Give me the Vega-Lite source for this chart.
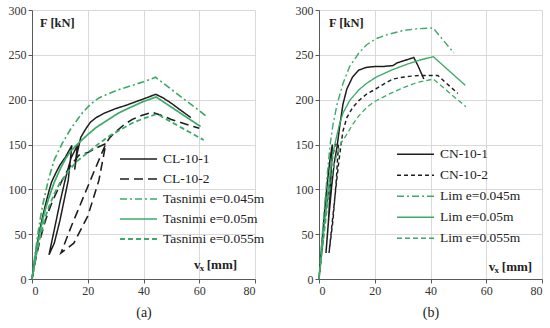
{
"$schema": "https://vega.github.io/schema/vega-lite/v6.json",
"background": "white",
"padding": {"left": 8, "top": 4, "right": 4, "bottom": 2},
"spacing": 30,
"resolve": {"scale": {"color": "independent", "strokeDash": "independent", "strokeWidth": "independent", "x": "independent", "y": "independent"}, "legend": {"color": "independent", "strokeDash": "independent", "strokeWidth": "independent"}},
"config": {
  "view": {"stroke": null},
  "font": "Liberation Serif, serif",
  "axis": {"labelFont": "Liberation Serif, serif", "labelFontSize": 12, "labelColor": "#333333", "gridColor": "#d9d9d9", "domainColor": "#595959", "tickColor": "#595959", "tickSize": 4, "labelPadding": 2, "titleFont": "Liberation Serif, serif", "titleColor": "#222222"},
  "legend": {"labelFont": "Liberation Serif, serif", "labelFontSize": 13.5, "labelColor": "#222222"},
  "text": {"font": "Liberation Serif, serif"}
},
"datasets": {
"a": [
{"s":"CL-10-1","i":0,"x":0,"y":0},{"s":"CL-10-1","i":1,"x":1,"y":22},{"s":"CL-10-1","i":2,"x":2,"y":42},{"s":"CL-10-1","i":3,"x":3,"y":58},{"s":"CL-10-1","i":4,"x":4,"y":72},{"s":"CL-10-1","i":5,"x":5,"y":85},{"s":"CL-10-1","i":6,"x":6,"y":97},{"s":"CL-10-1","i":7,"x":7,"y":108},{"s":"CL-10-1","i":8,"x":8.5,"y":118},{"s":"CL-10-1","i":9,"x":10,"y":127},{"s":"CL-10-1","i":10,"x":12,"y":136},{"s":"CL-10-1","i":11,"x":14.3,"y":149},{"s":"CL-10-1","i":12,"x":13,"y":110},{"s":"CL-10-1","i":13,"x":10,"y":65},{"s":"CL-10-1","i":14,"x":8,"y":40},{"s":"CL-10-1","i":15,"x":6.1,"y":27},{"s":"CL-10-1","i":16,"x":8,"y":55},{"s":"CL-10-1","i":17,"x":10,"y":85},{"s":"CL-10-1","i":18,"x":12,"y":112},{"s":"CL-10-1","i":19,"x":14,"y":135},{"s":"CL-10-1","i":20,"x":16.3,"y":149},{"s":"CL-10-1","i":21,"x":15.3,"y":122},{"s":"CL-10-1","i":22,"x":16.2,"y":140},{"s":"CL-10-1","i":23,"x":17.5,"y":158},{"s":"CL-10-1","i":24,"x":19.4,"y":168},{"s":"CL-10-1","i":25,"x":21,"y":175},{"s":"CL-10-1","i":26,"x":23,"y":180},{"s":"CL-10-1","i":27,"x":26,"y":185},{"s":"CL-10-1","i":28,"x":30,"y":190},{"s":"CL-10-1","i":29,"x":34,"y":194},{"s":"CL-10-1","i":30,"x":38.4,"y":199},{"s":"CL-10-1","i":31,"x":41,"y":202},{"s":"CL-10-1","i":32,"x":44.4,"y":206},{"s":"CL-10-1","i":33,"x":47,"y":202},{"s":"CL-10-1","i":34,"x":50,"y":196},{"s":"CL-10-1","i":35,"x":53,"y":189},{"s":"CL-10-1","i":36,"x":57,"y":180},
{"s":"CL-10-2","i":0,"x":0,"y":0},{"s":"CL-10-2","i":1,"x":1.5,"y":25},{"s":"CL-10-2","i":2,"x":3,"y":45},{"s":"CL-10-2","i":3,"x":4.5,"y":62},{"s":"CL-10-2","i":4,"x":6,"y":76},{"s":"CL-10-2","i":5,"x":7.5,"y":88},{"s":"CL-10-2","i":6,"x":9,"y":98},{"s":"CL-10-2","i":7,"x":10.5,"y":108},{"s":"CL-10-2","i":8,"x":12,"y":117},{"s":"CL-10-2","i":9,"x":13.5,"y":125},{"s":"CL-10-2","i":10,"x":15,"y":131},{"s":"CL-10-2","i":11,"x":16.8,"y":138},{"s":"CL-10-2","i":12,"x":20,"y":141},{"s":"CL-10-2","i":13,"x":23,"y":146},{"s":"CL-10-2","i":14,"x":26.5,"y":151},{"s":"CL-10-2","i":15,"x":24,"y":110},{"s":"CL-10-2","i":16,"x":20,"y":70},{"s":"CL-10-2","i":17,"x":15,"y":40},{"s":"CL-10-2","i":18,"x":10.4,"y":29},{"s":"CL-10-2","i":19,"x":14,"y":58},{"s":"CL-10-2","i":20,"x":18,"y":88},{"s":"CL-10-2","i":21,"x":22,"y":118},{"s":"CL-10-2","i":22,"x":26.5,"y":151},{"s":"CL-10-2","i":23,"x":28,"y":158},{"s":"CL-10-2","i":24,"x":30,"y":164},{"s":"CL-10-2","i":25,"x":33,"y":172},{"s":"CL-10-2","i":26,"x":36,"y":178},{"s":"CL-10-2","i":27,"x":39,"y":182},{"s":"CL-10-2","i":28,"x":43,"y":186},{"s":"CL-10-2","i":29,"x":46,"y":183},{"s":"CL-10-2","i":30,"x":50,"y":178},{"s":"CL-10-2","i":31,"x":55,"y":173},{"s":"CL-10-2","i":32,"x":60,"y":168},
{"s":"Tasnimi e=0.045m","i":0,"x":0,"y":0},{"s":"Tasnimi e=0.045m","i":1,"x":1,"y":25},{"s":"Tasnimi e=0.045m","i":2,"x":2,"y":48},{"s":"Tasnimi e=0.045m","i":3,"x":3,"y":68},{"s":"Tasnimi e=0.045m","i":4,"x":4,"y":85},{"s":"Tasnimi e=0.045m","i":5,"x":6,"y":112},{"s":"Tasnimi e=0.045m","i":6,"x":8,"y":133},{"s":"Tasnimi e=0.045m","i":7,"x":10.8,"y":151},{"s":"Tasnimi e=0.045m","i":8,"x":14,"y":168},{"s":"Tasnimi e=0.045m","i":9,"x":18,"y":185},{"s":"Tasnimi e=0.045m","i":10,"x":21,"y":195},{"s":"Tasnimi e=0.045m","i":11,"x":24,"y":202},{"s":"Tasnimi e=0.045m","i":12,"x":30,"y":210},{"s":"Tasnimi e=0.045m","i":13,"x":36,"y":216},{"s":"Tasnimi e=0.045m","i":14,"x":40,"y":220},{"s":"Tasnimi e=0.045m","i":15,"x":44.3,"y":225},{"s":"Tasnimi e=0.045m","i":16,"x":62.8,"y":181},
{"s":"Tasnimi e=0.05m","i":0,"x":0,"y":0},{"s":"Tasnimi e=0.05m","i":1,"x":1,"y":20},{"s":"Tasnimi e=0.05m","i":2,"x":2,"y":38},{"s":"Tasnimi e=0.05m","i":3,"x":3,"y":54},{"s":"Tasnimi e=0.05m","i":4,"x":4,"y":68},{"s":"Tasnimi e=0.05m","i":5,"x":5,"y":80},{"s":"Tasnimi e=0.05m","i":6,"x":6,"y":90},{"s":"Tasnimi e=0.05m","i":7,"x":8,"y":108},{"s":"Tasnimi e=0.05m","i":8,"x":10,"y":122},{"s":"Tasnimi e=0.05m","i":9,"x":12,"y":134},{"s":"Tasnimi e=0.05m","i":10,"x":14,"y":143},{"s":"Tasnimi e=0.05m","i":11,"x":16.5,"y":151},{"s":"Tasnimi e=0.05m","i":12,"x":20,"y":161},{"s":"Tasnimi e=0.05m","i":13,"x":23,"y":169},{"s":"Tasnimi e=0.05m","i":14,"x":27,"y":177},{"s":"Tasnimi e=0.05m","i":15,"x":31,"y":185},{"s":"Tasnimi e=0.05m","i":16,"x":35,"y":191},{"s":"Tasnimi e=0.05m","i":17,"x":40,"y":198},{"s":"Tasnimi e=0.05m","i":18,"x":44.5,"y":203},{"s":"Tasnimi e=0.05m","i":19,"x":60.5,"y":170},
{"s":"Tasnimi e=0.055m","i":0,"x":0,"y":0},{"s":"Tasnimi e=0.055m","i":1,"x":1,"y":18},{"s":"Tasnimi e=0.055m","i":2,"x":2,"y":34},{"s":"Tasnimi e=0.055m","i":3,"x":3,"y":48},{"s":"Tasnimi e=0.055m","i":4,"x":4,"y":60},{"s":"Tasnimi e=0.055m","i":5,"x":5,"y":71},{"s":"Tasnimi e=0.055m","i":6,"x":6,"y":80},{"s":"Tasnimi e=0.055m","i":7,"x":8,"y":95},{"s":"Tasnimi e=0.055m","i":8,"x":10,"y":107},{"s":"Tasnimi e=0.055m","i":9,"x":13,"y":120},{"s":"Tasnimi e=0.055m","i":10,"x":16,"y":131},{"s":"Tasnimi e=0.055m","i":11,"x":20,"y":141},{"s":"Tasnimi e=0.055m","i":12,"x":24,"y":151},{"s":"Tasnimi e=0.055m","i":13,"x":28,"y":160},{"s":"Tasnimi e=0.055m","i":14,"x":32,"y":167},{"s":"Tasnimi e=0.055m","i":15,"x":36,"y":174},{"s":"Tasnimi e=0.055m","i":16,"x":40,"y":179},{"s":"Tasnimi e=0.055m","i":17,"x":44.8,"y":184},{"s":"Tasnimi e=0.055m","i":18,"x":61.6,"y":155}
],
"b": [
{"s":"CN-10-1","i":0,"x":0,"y":0},{"s":"CN-10-1","i":1,"x":1,"y":38},{"s":"CN-10-1","i":2,"x":2,"y":75},{"s":"CN-10-1","i":3,"x":3,"y":108},{"s":"CN-10-1","i":4,"x":4,"y":135},{"s":"CN-10-1","i":5,"x":4.8,"y":150},{"s":"CN-10-1","i":6,"x":4.2,"y":110},{"s":"CN-10-1","i":7,"x":3.4,"y":65},{"s":"CN-10-1","i":8,"x":2.5,"y":29},{"s":"CN-10-1","i":9,"x":3.5,"y":68},{"s":"CN-10-1","i":10,"x":4.5,"y":102},{"s":"CN-10-1","i":11,"x":5.5,"y":130},{"s":"CN-10-1","i":12,"x":6.5,"y":148},{"s":"CN-10-1","i":13,"x":7.5,"y":172},{"s":"CN-10-1","i":14,"x":8.6,"y":195},{"s":"CN-10-1","i":15,"x":10,"y":212},{"s":"CN-10-1","i":16,"x":12,"y":225},{"s":"CN-10-1","i":17,"x":14.3,"y":233},{"s":"CN-10-1","i":18,"x":17,"y":236},{"s":"CN-10-1","i":19,"x":20,"y":237},{"s":"CN-10-1","i":20,"x":23,"y":237},{"s":"CN-10-1","i":21,"x":26.5,"y":238},{"s":"CN-10-1","i":22,"x":28,"y":241},{"s":"CN-10-1","i":23,"x":31,"y":244},{"s":"CN-10-1","i":24,"x":34,"y":247},{"s":"CN-10-1","i":25,"x":35.5,"y":238},{"s":"CN-10-1","i":26,"x":37.6,"y":223},
{"s":"CN-10-2","i":0,"x":0,"y":0},{"s":"CN-10-2","i":1,"x":1,"y":30},{"s":"CN-10-2","i":2,"x":2,"y":60},{"s":"CN-10-2","i":3,"x":3,"y":88},{"s":"CN-10-2","i":4,"x":4,"y":115},{"s":"CN-10-2","i":5,"x":5,"y":138},{"s":"CN-10-2","i":6,"x":5.8,"y":150},{"s":"CN-10-2","i":7,"x":7,"y":151},{"s":"CN-10-2","i":8,"x":6.2,"y":110},{"s":"CN-10-2","i":9,"x":5,"y":65},{"s":"CN-10-2","i":10,"x":3.6,"y":29},{"s":"CN-10-2","i":11,"x":4.8,"y":65},{"s":"CN-10-2","i":12,"x":6,"y":100},{"s":"CN-10-2","i":13,"x":7,"y":128},{"s":"CN-10-2","i":14,"x":7.9,"y":150},{"s":"CN-10-2","i":15,"x":8.6,"y":165},{"s":"CN-10-2","i":16,"x":10,"y":180},{"s":"CN-10-2","i":17,"x":12,"y":191},{"s":"CN-10-2","i":18,"x":14.3,"y":199},{"s":"CN-10-2","i":19,"x":17,"y":206},{"s":"CN-10-2","i":20,"x":20.4,"y":212},{"s":"CN-10-2","i":21,"x":23.5,"y":218},{"s":"CN-10-2","i":22,"x":26.5,"y":223},{"s":"CN-10-2","i":23,"x":30,"y":225},{"s":"CN-10-2","i":24,"x":32.3,"y":226},{"s":"CN-10-2","i":25,"x":36,"y":227},{"s":"CN-10-2","i":26,"x":42.6,"y":227},{"s":"CN-10-2","i":27,"x":49.8,"y":207},
{"s":"Lim e=0.045m","i":0,"x":0,"y":0},{"s":"Lim e=0.045m","i":1,"x":1,"y":42},{"s":"Lim e=0.045m","i":2,"x":2,"y":82},{"s":"Lim e=0.045m","i":3,"x":3,"y":118},{"s":"Lim e=0.045m","i":4,"x":4,"y":150},{"s":"Lim e=0.045m","i":5,"x":5,"y":172},{"s":"Lim e=0.045m","i":6,"x":6.5,"y":195},{"s":"Lim e=0.045m","i":7,"x":8.6,"y":218},{"s":"Lim e=0.045m","i":8,"x":11,"y":237},{"s":"Lim e=0.045m","i":9,"x":14.3,"y":252},{"s":"Lim e=0.045m","i":10,"x":17,"y":261},{"s":"Lim e=0.045m","i":11,"x":20.4,"y":268},{"s":"Lim e=0.045m","i":12,"x":25,"y":273},{"s":"Lim e=0.045m","i":13,"x":30,"y":277},{"s":"Lim e=0.045m","i":14,"x":35,"y":279},{"s":"Lim e=0.045m","i":15,"x":40.9,"y":280},{"s":"Lim e=0.045m","i":16,"x":48.4,"y":252},
{"s":"Lim e=0.05m","i":0,"x":0,"y":0},{"s":"Lim e=0.05m","i":1,"x":1,"y":32},{"s":"Lim e=0.05m","i":2,"x":2,"y":63},{"s":"Lim e=0.05m","i":3,"x":3,"y":92},{"s":"Lim e=0.05m","i":4,"x":4,"y":118},{"s":"Lim e=0.05m","i":5,"x":5,"y":140},{"s":"Lim e=0.05m","i":6,"x":6.1,"y":156},{"s":"Lim e=0.05m","i":7,"x":7.3,"y":172},{"s":"Lim e=0.05m","i":8,"x":8.6,"y":185},{"s":"Lim e=0.05m","i":9,"x":11,"y":199},{"s":"Lim e=0.05m","i":10,"x":14.3,"y":211},{"s":"Lim e=0.05m","i":11,"x":17,"y":218},{"s":"Lim e=0.05m","i":12,"x":20.4,"y":225},{"s":"Lim e=0.05m","i":13,"x":26,"y":233},{"s":"Lim e=0.05m","i":14,"x":32,"y":240},{"s":"Lim e=0.05m","i":15,"x":36,"y":244},{"s":"Lim e=0.05m","i":16,"x":41,"y":248},{"s":"Lim e=0.05m","i":17,"x":52.5,"y":216},
{"s":"Lim e=0.055m","i":0,"x":0,"y":0},{"s":"Lim e=0.055m","i":1,"x":1,"y":27},{"s":"Lim e=0.055m","i":2,"x":2,"y":54},{"s":"Lim e=0.055m","i":3,"x":3,"y":80},{"s":"Lim e=0.055m","i":4,"x":4,"y":103},{"s":"Lim e=0.055m","i":5,"x":5,"y":122},{"s":"Lim e=0.055m","i":6,"x":6.5,"y":140},{"s":"Lim e=0.055m","i":7,"x":8,"y":152},{"s":"Lim e=0.055m","i":8,"x":9.7,"y":160},{"s":"Lim e=0.055m","i":9,"x":12,"y":172},{"s":"Lim e=0.055m","i":10,"x":14.3,"y":182},{"s":"Lim e=0.055m","i":11,"x":17,"y":191},{"s":"Lim e=0.055m","i":12,"x":20,"y":198},{"s":"Lim e=0.055m","i":13,"x":25,"y":206},{"s":"Lim e=0.055m","i":14,"x":30,"y":213},{"s":"Lim e=0.055m","i":15,"x":35,"y":219},{"s":"Lim e=0.055m","i":16,"x":41,"y":223},{"s":"Lim e=0.055m","i":17,"x":52.7,"y":192}
]
},
"hconcat": [
{
  "width": 223, "height": 269,
  "layer": [
    {
      "data": {"name": "a"},
      "mark": {"type": "line"},
      "encoding": {
        "x": {"field": "x", "type": "quantitative", "scale": {"domain": [0, 80]}, "axis": {"values": [0, 20, 40, 60, 80], "title": "(a)", "titleFontSize": 14, "titleFontWeight": "normal", "titlePadding": 9}},
        "y": {"field": "y", "type": "quantitative", "scale": {"domain": [0, 300]}, "axis": {"values": [0, 50, 100, 150, 200, 250, 300], "title": null}},
        "color": {"field": "s", "type": "nominal", "scale": {"domain": ["CL-10-1", "CL-10-2", "Tasnimi e=0.045m", "Tasnimi e=0.05m", "Tasnimi e=0.055m"], "range": ["#1e1e1e", "#1e1e1e", "#3daa6a", "#3daa6a", "#3daa6a"]},
          "legend": {"orient": "none", "legendX": 87, "legendY": 139, "title": null, "symbolType": "stroke", "symbolSize": 1369, "clipHeight": 20, "rowPadding": 0, "padding": 0, "labelOffset": 5}},
        "strokeDash": {"field": "s", "type": "nominal", "scale": {"domain": ["CL-10-1", "CL-10-2", "Tasnimi e=0.045m", "Tasnimi e=0.05m", "Tasnimi e=0.055m"], "range": [[1, 0], [9, 5], [7, 3, 2, 3], [1, 0], [5, 3]]}},
        "strokeWidth": {"field": "s", "type": "ordinal", "scale": {"domain": ["CL-10-1", "CL-10-2", "Tasnimi e=0.045m", "Tasnimi e=0.05m", "Tasnimi e=0.055m"], "range": [1.5, 1.8, 1, 1.5, 1.3]}},
        "order": {"field": "i", "type": "quantitative"}
      }
    },
    {"data": {"values": [{}]}, "mark": {"type": "text", "text": "F [kN]", "align": "left", "baseline": "middle", "fontWeight": "bold", "fontSize": 12.5, "color": "#222222"}, "encoding": {"x": {"datum": 2.9}, "y": {"datum": 286}}},
    {"data": {"values": [{}]}, "mark": {"type": "text", "text": "v", "align": "left", "baseline": "middle", "fontWeight": "bold", "fontSize": 13, "color": "#222222"}, "encoding": {"x": {"datum": 58.1}, "y": {"datum": 15.6}}},
    {"data": {"values": [{}]}, "mark": {"type": "text", "text": "x", "align": "left", "baseline": "middle", "fontWeight": "bold", "fontSize": 9, "dy": 3, "color": "#222222"}, "encoding": {"x": {"datum": 60.2}, "y": {"datum": 15.6}}},
    {"data": {"values": [{}]}, "mark": {"type": "text", "text": "[mm]", "align": "left", "baseline": "middle", "fontWeight": "bold", "fontSize": 13, "color": "#222222"}, "encoding": {"x": {"datum": 62.7}, "y": {"datum": 15.6}}}
  ]
},
{
  "width": 223, "height": 269,
  "layer": [
    {
      "data": {"name": "b"},
      "mark": {"type": "line"},
      "encoding": {
        "x": {"field": "x", "type": "quantitative", "scale": {"domain": [0, 80]}, "axis": {"values": [0, 20, 40, 60, 80], "title": "(b)", "titleFontSize": 14, "titleFontWeight": "normal", "titlePadding": 9}},
        "y": {"field": "y", "type": "quantitative", "scale": {"domain": [0, 300]}, "axis": {"values": [0, 50, 100, 150, 200, 250, 300], "title": null}},
        "color": {"field": "s", "type": "nominal", "scale": {"domain": ["CN-10-1", "CN-10-2", "Lim e=0.045m", "Lim e=0.05m", "Lim e=0.055m"], "range": ["#1e1e1e", "#1e1e1e", "#3daa6a", "#3daa6a", "#3daa6a"]},
          "legend": {"orient": "none", "legendX": 77, "legendY": 134, "title": null, "symbolType": "stroke", "symbolSize": 1369, "clipHeight": 20.5, "rowPadding": 0, "padding": 0, "labelOffset": 5}},
        "strokeDash": {"field": "s", "type": "nominal", "scale": {"domain": ["CN-10-1", "CN-10-2", "Lim e=0.045m", "Lim e=0.05m", "Lim e=0.055m"], "range": [[1, 0], [4, 3], [7, 3, 2, 3], [1, 0], [5, 3]]}},
        "strokeWidth": {"field": "s", "type": "ordinal", "scale": {"domain": ["CN-10-1", "CN-10-2", "Lim e=0.045m", "Lim e=0.05m", "Lim e=0.055m"], "range": [1.5, 1.3, 1, 1.5, 1.3]}},
        "order": {"field": "i", "type": "quantitative"}
      }
    },
    {"data": {"values": [{}]}, "mark": {"type": "text", "text": "F [kN]", "align": "left", "baseline": "middle", "fontWeight": "bold", "fontSize": 12.5, "color": "#222222"}, "encoding": {"x": {"datum": 3.6}, "y": {"datum": 285}}},
    {"data": {"values": [{}]}, "mark": {"type": "text", "text": "v", "align": "left", "baseline": "middle", "fontWeight": "bold", "fontSize": 13, "color": "#222222"}, "encoding": {"x": {"datum": 60.9}, "y": {"datum": 13.4}}},
    {"data": {"values": [{}]}, "mark": {"type": "text", "text": "x", "align": "left", "baseline": "middle", "fontWeight": "bold", "fontSize": 9, "dy": 3, "color": "#222222"}, "encoding": {"x": {"datum": 63}, "y": {"datum": 13.4}}},
    {"data": {"values": [{}]}, "mark": {"type": "text", "text": "[mm]", "align": "left", "baseline": "middle", "fontWeight": "bold", "fontSize": 13, "color": "#222222"}, "encoding": {"x": {"datum": 65.6}, "y": {"datum": 13.4}}}
  ]
}
]
}
